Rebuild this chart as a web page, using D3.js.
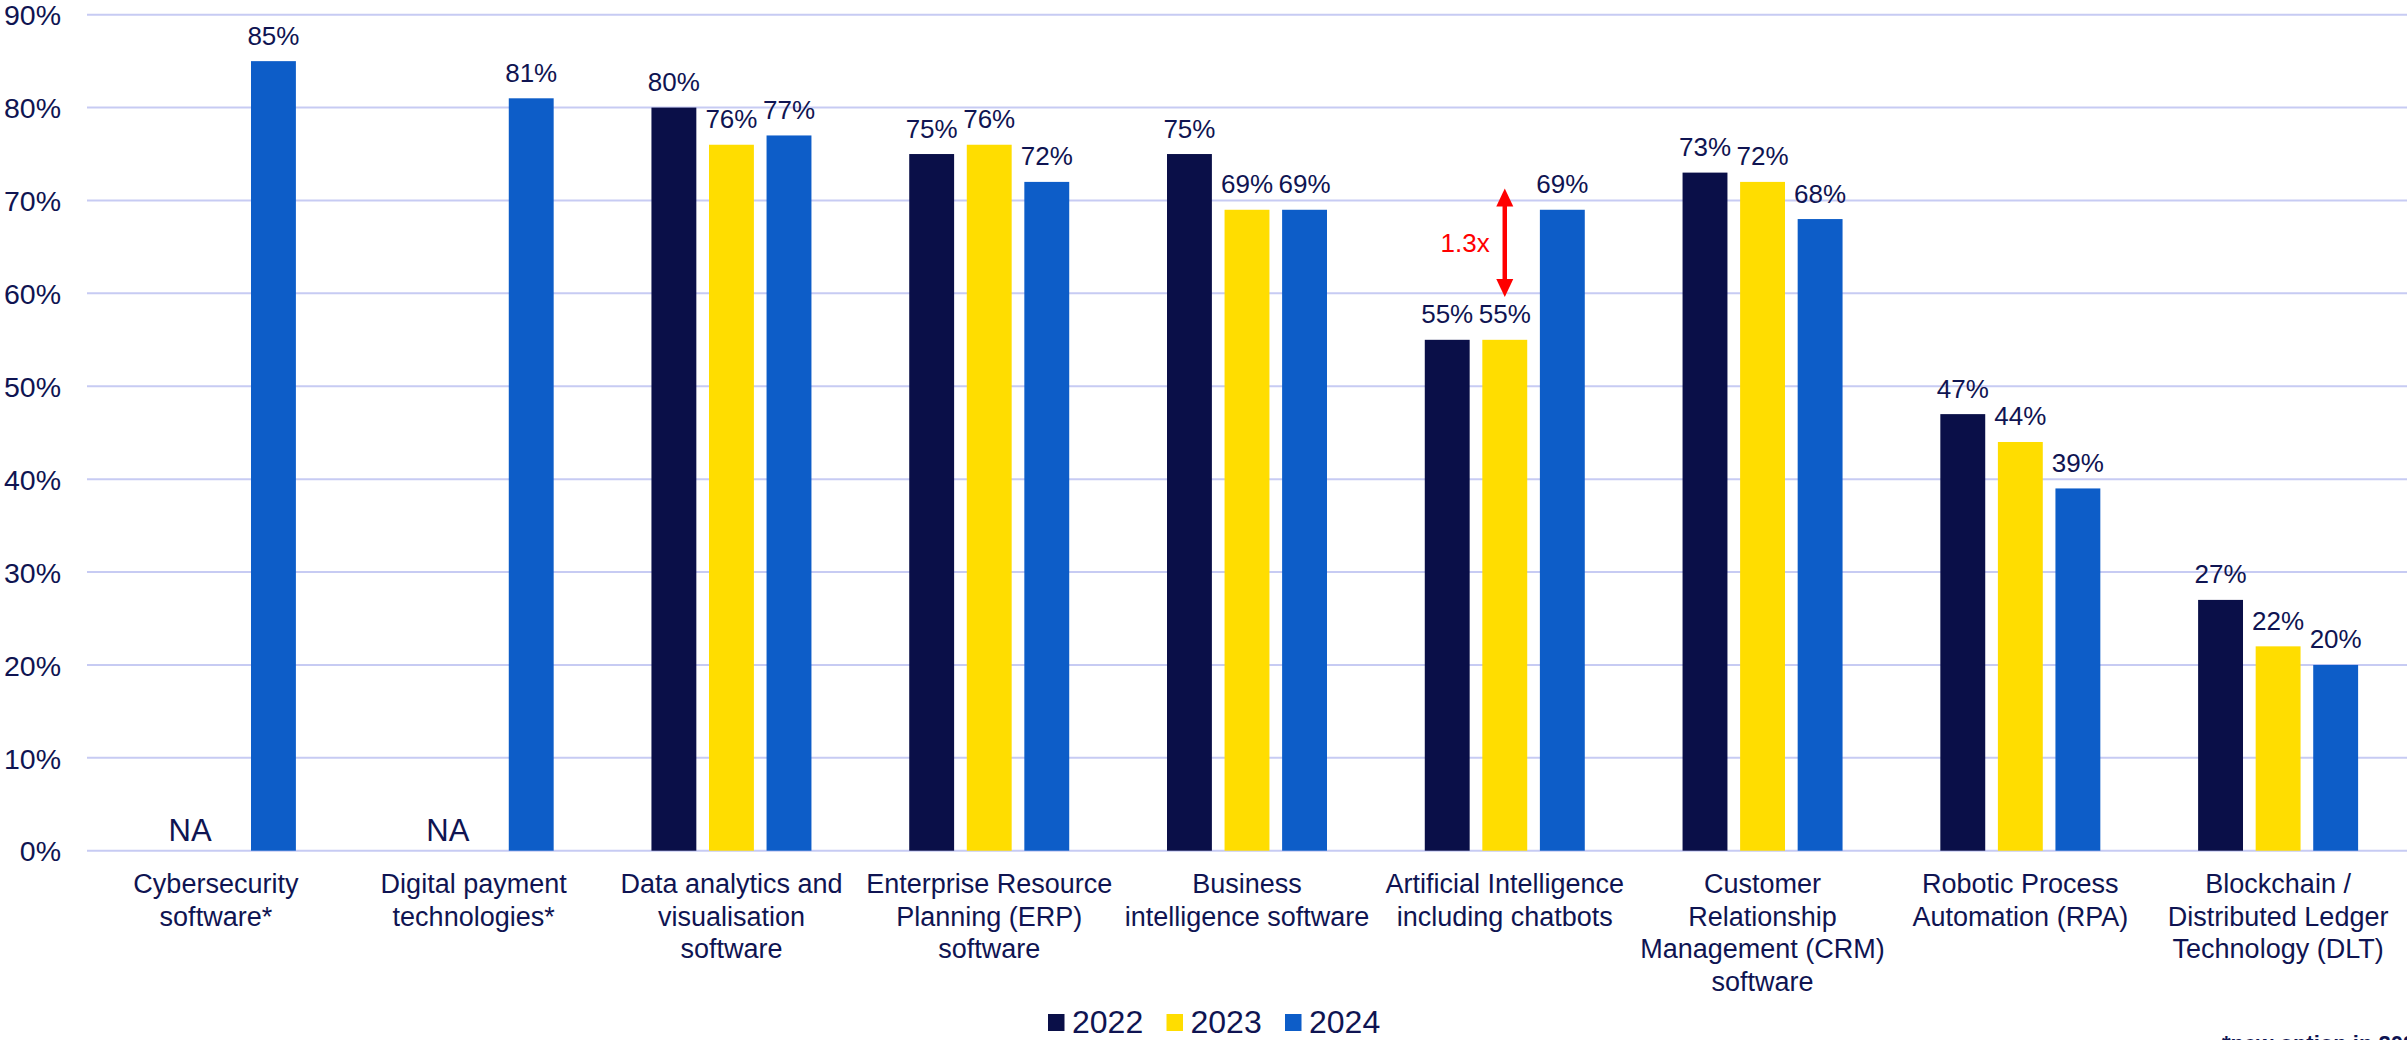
<!DOCTYPE html>
<html>
<head>
<meta charset="utf-8">
<script src="https://cdn.jsdelivr.net/npm/d3@7"></script>
<style>
  html, body { margin: 0; padding: 0; background: #ffffff; }
  svg { display: block; }
  text { font-family: "Liberation Sans", Arial, Helvetica, sans-serif; }
</style>
</head>
<body>
<svg id="chart" width="2407" height="1040"></svg>
<script>
// Categories (label lines) and adoption share per year, in percent.
const categories = [
  ["Cybersecurity", "software*"],
  ["Digital payment", "technologies*"],
  ["Data analytics and", "visualisation", "software"],
  ["Enterprise Resource", "Planning (ERP)", "software"],
  ["Business", "intelligence software"],
  ["Artificial Intelligence", "including chatbots"],
  ["Customer", "Relationship", "Management (CRM)", "software"],
  ["Robotic Process", "Automation (RPA)"],
  ["Blockchain /", "Distributed Ledger", "Technology (DLT)"]
];
const years = ["2022", "2023", "2024"];
const values2022 = [null, null, 80, 75, 75, 55, 73, 47, 27];
const values2023 = [null, null, 76, 76, 69, 55, 72, 44, 22];
const values2024 = [85, 81, 77, 72, 69, 69, 68, 39, 20];
const yTicks = [0, 10, 20, 30, 40, 50, 60, 70, 80, 90];
const naLabel = "NA";
const footnote = "*new option in 2024";
// Growth annotation on the AI category: from the 2022/2023 level to the 2024 level.
const growthNote = { category: 5, year: "2023", from: 59.6, to: 71.3, text: "1.3x" };

const colors = { "2022": "#0a0f48", "2023": "#ffdd00", "2024": "#0d5dc8" };
const textColor = "#0f1452";
const gridColor = "#c7cbf3";

const svg = d3.select("#chart");
const W = 2407;
const plot = { left: 87, right: 2407, top: 14.7, bottom: 850.7 };

const series = years.map((yr, i) => ({ year: yr, values: [values2022, values2023, values2024][i] }));
const catIdx = d3.range(categories.length);

const x0 = d3.scaleBand().domain(catIdx).range([plot.left, plot.right]).padding(0);
const groupW = 160;
const x1 = d3.scaleBand().domain(years)
  .range([(x0.bandwidth() - groupW) / 2, (x0.bandwidth() + groupW) / 2])
  .paddingInner(0.22).paddingOuter(0);
const y = d3.scaleLinear().domain([0, 90]).range([plot.bottom, plot.top]);

// Gridlines
svg.append("g")
  .selectAll("line")
  .data(yTicks)
  .join("line")
  .attr("x1", plot.left).attr("x2", plot.right)
  .attr("y1", d => y(d)).attr("y2", d => y(d))
  .attr("stroke", gridColor).attr("stroke-width", 2);

// Y axis labels
const yAxis = d3.axisLeft(y).tickValues(yTicks).tickFormat(d => d + "%").tickSize(0).tickPadding(0);
const yg = svg.append("g").attr("transform", `translate(${plot.left - 26},0)`).call(yAxis);
yg.select(".domain").remove();
yg.selectAll("text")
  .attr("fill", textColor)
  .style("font-size", "28.5px")
  .attr("dy", "0.36em");

// Bars
const groups = svg.append("g")
  .selectAll("g")
  .data(catIdx)
  .join("g")
  .attr("transform", i => `translate(${x0(i)},0)`);

groups.selectAll("rect")
  .data(i => series.map(s => ({ year: s.year, v: s.values[i] })).filter(d => d.v !== null))
  .join("rect")
  .attr("x", d => x1(d.year))
  .attr("width", x1.bandwidth())
  .attr("y", d => y(d.v))
  .attr("height", d => y(0) - y(d.v))
  .attr("fill", d => colors[d.year]);

// Value labels
groups.selectAll("text.val")
  .data(i => series.map(s => ({ year: s.year, v: s.values[i] })).filter(d => d.v !== null))
  .join("text")
  .attr("class", "val")
  .attr("x", d => x1(d.year) + x1.bandwidth() / 2)
  .attr("y", d => y(d.v) - 16.5)
  .attr("text-anchor", "middle")
  .attr("fill", textColor)
  .style("font-size", "26px")
  .text(d => d.v + "%");

// "NA" for years where the option did not exist
groups.filter(i => values2022[i] === null)
  .append("text")
  .attr("x", (x1("2022") + x1("2023") + x1.bandwidth()) / 2 + 3)
  .attr("y", y(0) - 10)
  .attr("text-anchor", "middle")
  .attr("fill", textColor)
  .style("font-size", "31px")
  .text(naLabel);

// Category labels
const catLabels = svg.append("g")
  .selectAll("text")
  .data(catIdx)
  .join("text")
  .attr("text-anchor", "middle")
  .attr("fill", textColor)
  .style("font-size", "27px")
  .attr("transform", i => `translate(${x0(i) + x0.bandwidth() / 2},893)`);
catLabels.selectAll("tspan")
  .data(i => categories[i])
  .join("tspan")
  .attr("x", 0)
  .attr("y", (d, k) => k * 32.5)
  .text(d => d);

// Growth annotation: red double-headed arrow and multiplier
const ann = svg.append("g");
const ax = x0(growthNote.category) + x1(growthNote.year) + x1.bandwidth() / 2;
const yTop = y(growthNote.to), yBot = y(growthNote.from);
const headH = 18, headW = 17;
ann.append("line")
  .attr("x1", ax).attr("x2", ax)
  .attr("y1", yTop + headH - 2).attr("y2", yBot - headH + 2)
  .attr("stroke", "#ff0000").attr("stroke-width", 4.5);
ann.append("path")
  .attr("d", `M${ax},${yTop} L${ax - headW / 2},${yTop + headH} L${ax + headW / 2},${yTop + headH} Z`)
  .attr("fill", "#ff0000");
ann.append("path")
  .attr("d", `M${ax},${yBot} L${ax - headW / 2},${yBot - headH} L${ax + headW / 2},${yBot - headH} Z`)
  .attr("fill", "#ff0000");
ann.append("text")
  .attr("x", ax - 15)
  .attr("y", (yTop + yBot) / 2 + 9)
  .attr("text-anchor", "end")
  .attr("fill", "#ff0000")
  .style("font-size", "26px")
  .text(growthNote.text);

// Legend
const legend = svg.append("g").attr("transform", "translate(1048,1014)");
const li = legend.selectAll("g")
  .data(years)
  .join("g")
  .attr("transform", (d, i) => `translate(${i * 118.5},0)`);
li.append("rect").attr("width", 16.5).attr("height", 17).attr("fill", d => colors[d]);
li.append("text")
  .attr("x", 24).attr("y", 18.5)
  .attr("fill", textColor)
  .style("font-size", "32px")
  .text(d => d);

// Footnote
svg.append("text")
  .attr("x", 2222).attr("y", 1051)
  .attr("fill", textColor)
  .style("font-size", "22px")
  .style("font-weight", "bold")
  .text(footnote);
</script>
</body>
</html>
